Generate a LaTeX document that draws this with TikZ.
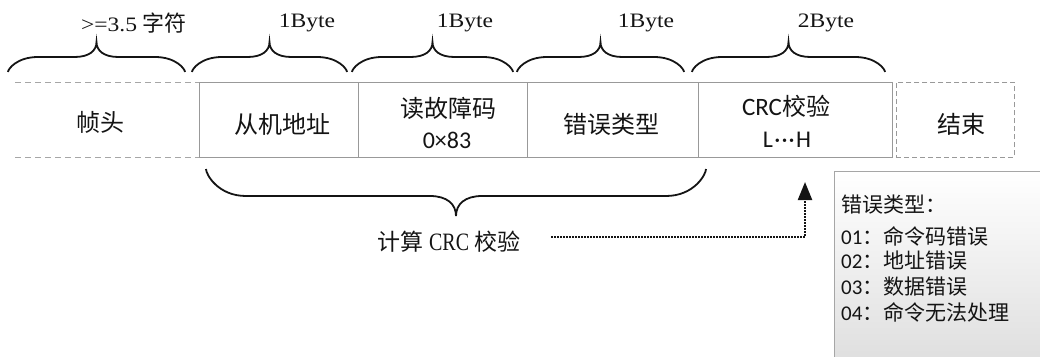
\documentclass[tikz,border=0pt]{standalone}
\usepackage{fontspec}
\setmainfont{Liberation Serif}
\newfontfamily\cjk{Noto Sans CJK SC}
\newfontfamily\carl{Carlito}
\newfontfamily\wideserif[FakeStretch=1.15]{Liberation Serif}
\newfontfamily\narrowserif[FakeStretch=0.8]{Liberation Serif}
\usetikzlibrary{arrows.meta,calc}

% #1 x1, #2 x2, #3 y of ends, #4 y of flat part, #5 y of tip, #6 end curve width, #7 tip curve width
\newcommand\mybrace[7]{%
  \draw[bracepen] (#1,#3)
    .. controls (#1,{#4+0.8*(#3-#4)}) and ({#1+0.3*#6},#4) .. ({#1+#6},#4)
    -- ({(#1+#2)/2-#7},#4)
    .. controls ({(#1+#2)/2-0.35*#7},#4) and ({(#1+#2)/2},{#5+0.6*(#4-#5)}) .. ({(#1+#2)/2},#5)
    .. controls ({(#1+#2)/2},{#5+0.6*(#4-#5)}) and ({(#1+#2)/2+0.35*#7},#4) .. ({(#1+#2)/2+#7},#4)
    -- ({#2-#6},#4)
    .. controls ({#2-0.3*#6},#4) and (#2,{#4+0.8*(#3-#4)}) .. (#2,#3);%
}

\begin{document}
\begin{tikzpicture}[x=1pt,y=-1pt,
  font=\cjk,
  fbox/.style={draw=gray!80, line width=0.9pt, minimum height=75pt, inner sep=0pt, anchor=north west},
  endbox/.style={fbox, dash pattern=on 5pt off 3pt},
  headline/.style={draw=gray!70, line width=0.9pt, dash pattern=on 6pt off 4pt},
  txt/.style={inner sep=0pt, text=black!92},
  boxtext/.style={txt, font=\cjk\fontsize{24}{28}\selectfont},
  numtext/.style={txt, font=\carl\fontsize{24}{28}\selectfont},
  toplabel/.style={txt, font=\wideserif\fontsize{20.5}{24}\selectfont},
  legendtext/.style={txt, anchor=west, font=\cjk\fontsize{21}{25}\selectfont},
  bracepen/.style={line width=1.8pt, black!92},
  dotline/.style={line width=2.2pt, dash pattern=on 1.6pt off 1.4pt, black!92}
]
\useasboundingbox (0,0) rectangle (1040,356);

% frame head (dashed top and bottom only)
\coordinate (h1) at (15,82);
\coordinate (h2) at (199,82);
\coordinate (h3) at (15,157);
\coordinate (h4) at (199,157);
\draw[headline] (h1) -- (h2);
\draw[headline] (h3) -- (h4);
\node[boxtext] (head) at (100,122) {帧头};

% boxes
\node[fbox, minimum width=159pt] (addr) at (199,82) {};
\node[fbox, minimum width=169pt] (code) at (358,82) {};
\node[fbox, minimum width=171pt] (type) at (527,82) {};
\node[fbox, minimum width=194pt] (crc) at (698,82) {};
\node[endbox, minimum width=118pt] (fin) at (896,82) {};

\node[boxtext] (addrt) at (282,124) {从机地址};
\node[boxtext] (codet) at (448,108) {读故障码};
\node[numtext] (coden) at (447,140) {0×83};
\node[txt] (typet) at (611,124) {\fontsize{24}{28}\selectfont 错误类型};
\node[txt] (crct) at (786,106) {{\carl\fontsize{25}{28}\selectfont CRC}{\fontsize{24}{28}\selectfont 校验}};
\node[numtext] (crcn) at (787,140) {L\kern1.5pt·\kern1pt·\kern1pt·\kern1.5pt H};
\node[boxtext] (fint) at (961,124) {结束};

% top braces
\mybrace{8}{185}{72}{57}{42}{30}{22}
\mybrace{192}{347}{72}{57}{42}{30}{22}
\mybrace{352}{513}{72}{57}{42}{30}{22}
\mybrace{517}{684}{72}{57}{42}{30}{22}
\mybrace{692}{885}{72}{57}{42}{30}{22}

\node[txt] (l1) at (134,23) {{\wideserif\fontsize{20.5}{24}\selectfont >=3.5 }{\fontsize{22}{26}\selectfont 字符}};
\node[toplabel] (l2) at (307,23) {1Byte};
\node[toplabel] (l3) at (465,23) {1Byte};
\node[toplabel] (l4) at (646,23) {1Byte};
\node[toplabel] (l5) at (826,23) {2Byte};

% bottom brace
\mybrace{206}{706}{169}{196}{216}{40}{26}
\node[txt] (calc) at (449,242) {{\fontsize{23}{27}\selectfont 计算 }{\narrowserif\fontsize{25}{28}\selectfont CRC }{\fontsize{23}{27}\selectfont 校验}};

% legend box
\begin{scope}
\clip (0,0) rectangle (1040,356);
\node[draw=gray!70, line width=0.9pt, top color=white, bottom color=black!13,
      minimum width=215pt, minimum height=195pt, anchor=north west, inner sep=0pt] (legend) at (834,171) {};
\end{scope}
\node[legendtext] (e0) at (841,205) {错误类型：};
\node[legendtext] (e1) at (841,236) {{\carl 01}：命令码错误};
\node[legendtext] (e2) at (841,261) {{\carl 02}：地址错误};
\node[legendtext] (e3) at (841,287) {{\carl 03}：数据错误};
\node[legendtext] (e4) at (841,312) {{\carl 04}：命令无法处理};

% dotted arrow
\coordinate (atip) at (805,182);
\draw[dotline, -{Triangle[width=14pt,length=18pt]}] ([xshift=31pt,yshift=5pt]calc.east) -| (atip);
\end{tikzpicture}
\end{document}
